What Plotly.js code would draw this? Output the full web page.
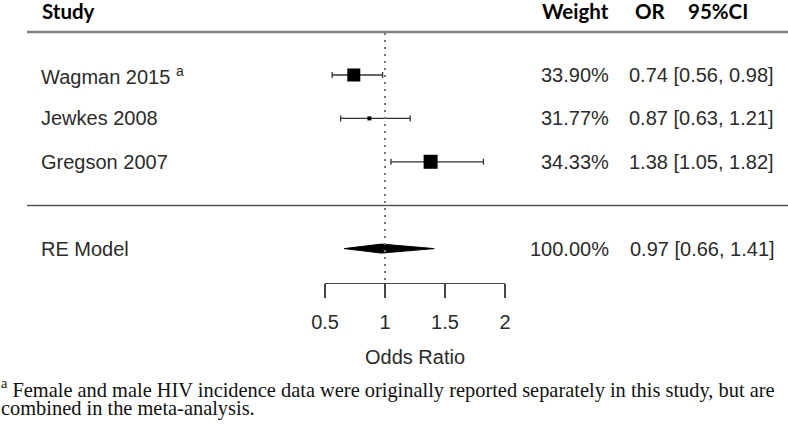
<!DOCTYPE html>
<html>
<head>
<meta charset="utf-8">
<script src="https://cdn.plot.ly/plotly-3.0.1.min.js"></script>
<style>
  html, body { margin: 0; padding: 0; background: #fff; }
  #chart { width: 788px; height: 424px; }
</style>
</head>
<body>
<div id="chart"></div>
<script>
/* ---- Data ---- */
const studies = ['Wagman 2015 <sup>a</sup>', 'Jewkes 2008', 'Gregson 2007'];
const weights = ['33.90%', '31.77%', '34.33%'];
const oddsRatio = [0.74, 0.87, 1.38];
const ciLow = [0.56, 0.63, 1.05];
const ciHigh = [0.98, 1.21, 1.82];

const reLabel = 'RE Model';
const reWeight = '100.00%';
const reOR = 0.97;
const reLow = 0.66;
const reHigh = 1.41;

const axisTicks = [0.5, 1, 1.5, 2];
const headers = ['Study', 'Weight', 'OR', '95%CI'];
const footnote = [
  '<sup>a</sup> Female and male HIV incidence data were originally reported separately in this study, but are',
  'combined in the meta-analysis.'
];

/* ---- Layout geometry ---- */
const W = 788, H = 424;
const PX_PER_OR = 120;          // px per unit of odds ratio
const X_ONE = 385;              // px where OR = 1
const ROW_PX = 43.4;            // px per row
const ROW0_PX = 75;             // px of first study row
const px2x = px => 1 + (px - X_ONE) / PX_PER_OR;
const px2y = px => (px - ROW0_PX) / ROW_PX;

const rows = studies.map((_, i) => i);
const reRow = 4;
const boxSize = [13, 4, 14];
const diamondHalf = px2y(ROW0_PX + 4.5);

const textFont = { family: 'Liberation Sans, Arial, sans-serif', size: 20, color: '#2b2b2b' };
const headFont = { family: 'Lato, Open Sans, sans-serif', size: 20.5, color: '#000' };
const noteFont = { family: 'Liberation Serif, Times New Roman, serif', size: 20.4, color: '#111' };

const fmt = v => v.toFixed(2);
const ciText = (o, l, h) => `${fmt(o)} [${fmt(l)}, ${fmt(h)}]`;

/* ---- Traces ---- */
const traces = [
  {
    x: oddsRatio, y: rows, type: 'scatter', mode: 'markers',
    marker: { symbol: 'square', size: boxSize, color: '#000', opacity: 1, line: { width: 0 } },
    error_x: {
      type: 'data', symmetric: false,
      array: ciHigh.map((h, i) => h - oddsRatio[i]),
      arrayminus: oddsRatio.map((o, i) => o - ciLow[i]),
      color: '#333', thickness: 1.3, width: 3
    },
    hoverinfo: 'skip', showlegend: false
  },
  {
    x: [reLow, reOR, reHigh, reOR, reLow],
    y: [reRow, reRow - diamondHalf, reRow, reRow + diamondHalf, reRow],
    type: 'scatter', mode: 'lines', fill: 'toself',
    fillcolor: '#000', line: { color: '#000', width: 1 },
    hoverinfo: 'skip', showlegend: false
  },
  // registers the odds-ratio axis below the plot
  { x: [], y: [], xaxis: 'x2', yaxis: 'y', type: 'scatter', mode: 'markers', showlegend: false }
];

/* ---- Text columns ---- */
const annotations = [];
const ann = (text, xpx, ypx, anchor, font) => annotations.push({
  text, x: xpx / W, xref: 'paper', y: px2y(ypx), yref: 'y',
  xanchor: anchor, yanchor: 'middle', showarrow: false, font, borderpad: 0
});

const headX = [41, 541, 634, 687];
headers.forEach((h, i) => ann(`<b>${h}</b>`, headX[i], 11, 'left', headFont));

studies.forEach((s, i) => {
  const ypx = ROW0_PX + rows[i] * ROW_PX;
  ann(s, 40, ypx, 'left', textFont);
  ann(weights[i], 610, ypx, 'right', textFont);
  ann(ciText(oddsRatio[i], ciLow[i], ciHigh[i]), 628, ypx, 'left', textFont);
});
const reY = ROW0_PX + reRow * ROW_PX;
ann(reLabel, 40, reY, 'left', textFont);
ann(reWeight, 610, reY, 'right', textFont);
ann(ciText(reOR, reLow, reHigh), 629, reY, 'left', textFont);

ann(footnote[0], 0, 388, 'left', noteFont);
ann(footnote[1], 0, 408, 'left', noteFont);

/* ---- Rules ---- */
const shapes = [
  { type: 'line', xref: 'paper', yref: 'y', x0: 27 / W, x1: 1, y0: px2y(32), y1: px2y(32),
    line: { color: '#808080', width: 2.5 } },
  { type: 'line', xref: 'paper', yref: 'y', x0: 27 / W, x1: 1, y0: px2y(205.5), y1: px2y(205.5),
    line: { color: '#555', width: 1.5 } },
  { type: 'line', xref: 'x', yref: 'y', x0: 1, x1: 1, y0: px2y(33), y1: px2y(283),
    line: { color: '#777', width: 2, dash: '2px,5px' } }
];

const layout = {
  width: W, height: H,
  margin: { l: 0, r: 0, t: 0, b: 0, pad: 0 },
  paper_bgcolor: '#fff', plot_bgcolor: 'rgba(0,0,0,0)',
  font: textFont,
  showlegend: false,
  xaxis: { range: [px2x(0), px2x(W)], visible: false, fixedrange: true },
  yaxis: { range: [px2y(H), px2y(0)], visible: false, fixedrange: true },
  xaxis2: {
    domain: [325 / W, 505 / W], anchor: 'free', position: 1 - 283 / H,
    range: [0.4995, 2.0005],
    tickmode: 'array', tickvals: axisTicks, ticktext: axisTicks.map(String),
    ticks: 'outside', ticklen: 14, tickwidth: 1.3, tickcolor: '#444',
    showline: true, linecolor: '#444', linewidth: 1.3,
    showgrid: false, zeroline: false,
    tickfont: textFont, ticklabelstandoff: 7,
    title: { text: 'Odds Ratio', font: textFont, standoff: 17 },
    fixedrange: true
  },
  annotations, shapes
};

Plotly.newPlot('chart', traces, layout, { staticPlot: true, displayModeBar: false });
</script>
</body>
</html>
